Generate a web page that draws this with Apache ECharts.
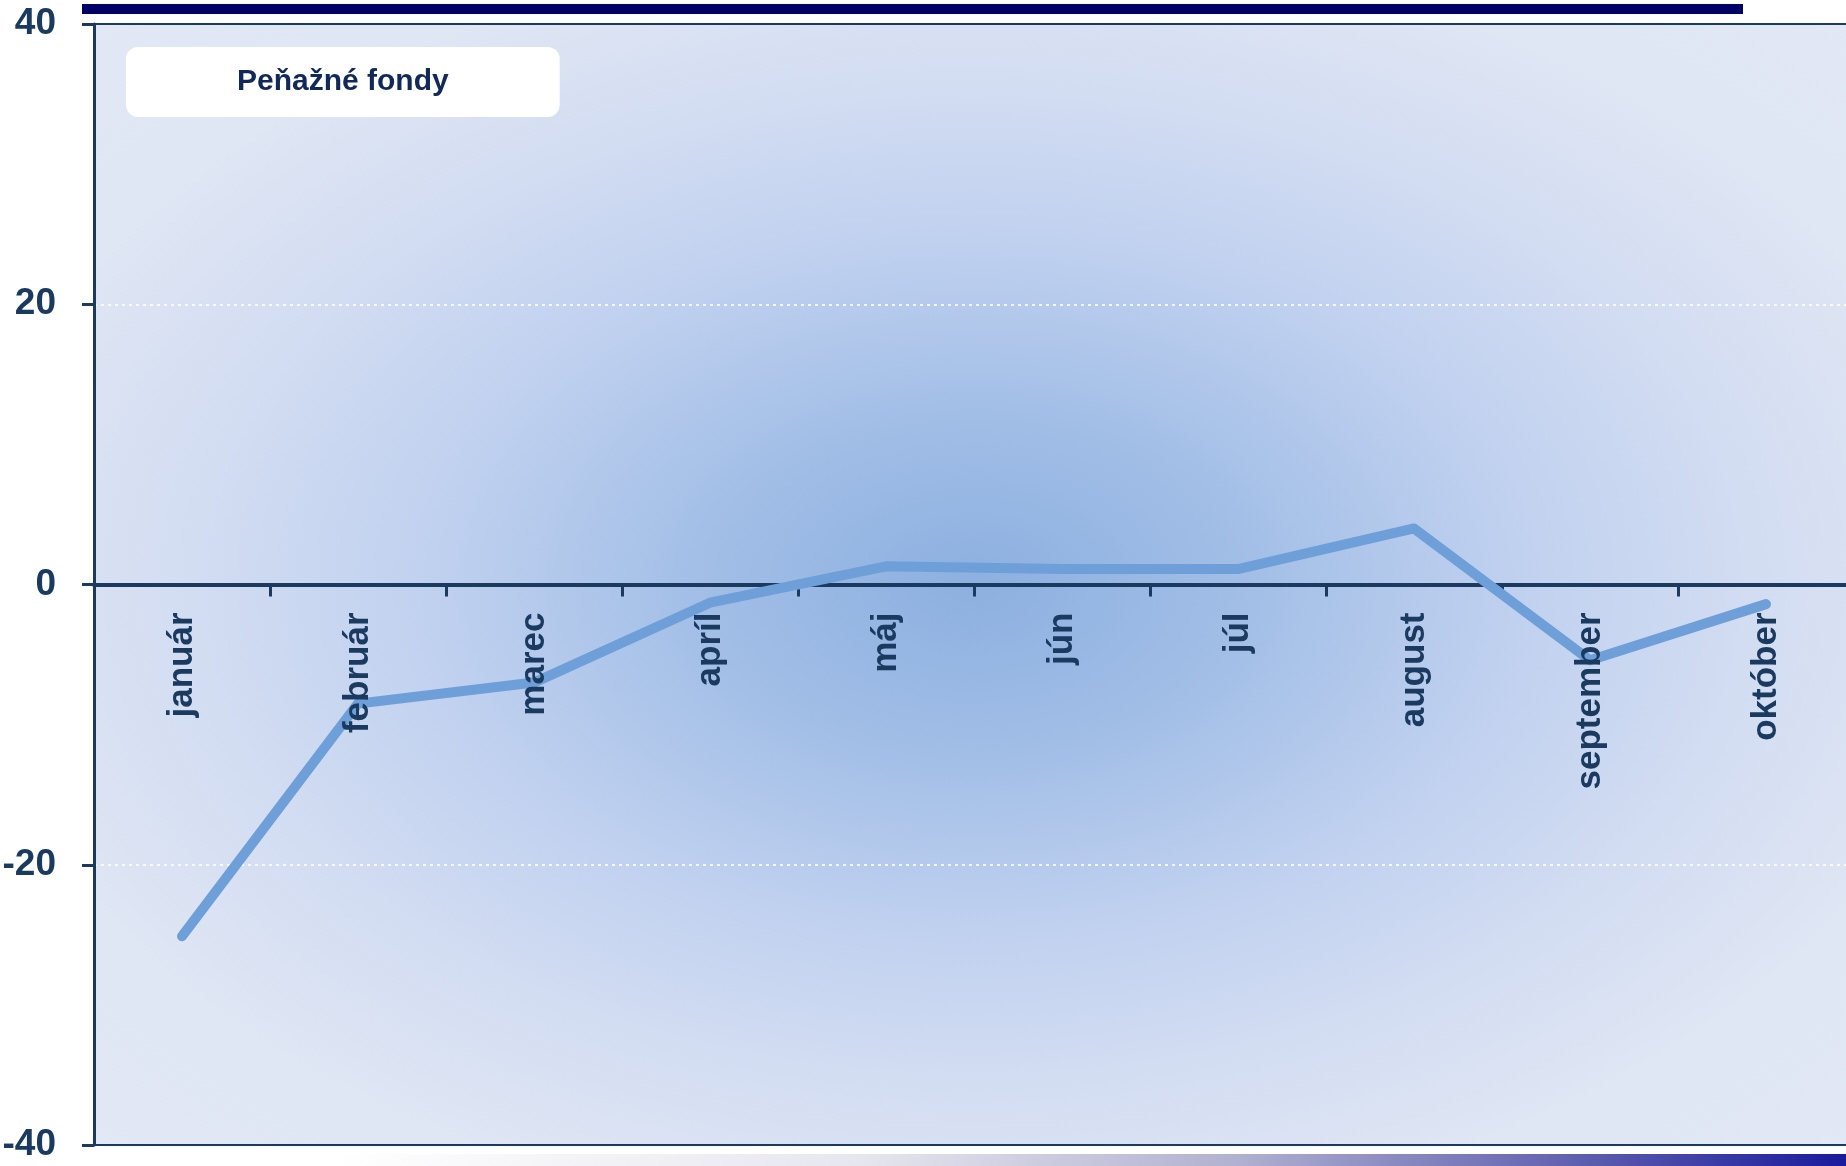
<!DOCTYPE html>
<html>
<head>
<meta charset="utf-8">
<script src="https://cdn.jsdelivr.net/npm/echarts@6/dist/echarts.min.js"></script>
<style>
  html, body { margin: 0; padding: 0; background: #ffffff; }
  #chart { width: 1846px; height: 1166px; }
</style>
</head>
<body>
<div id="chart"></div>
<script>
const months = ['január', 'február', 'marec', 'apríl', 'máj', 'jún', 'júl', 'august', 'september', 'október'];
const seriesName = 'Peňažné fondy';
const values = [-25.1, -8.5, -7.0, -1.3, 1.3, 1.1, 1.1, 4.0, -5.4, -1.4];
const yMin = -40, yMax = 40, yStep = 20;

const navy = '#1b3a60';
const font = "'Liberation Sans', Arial, sans-serif";

const G = { left: 94, top: 24, width: 1760, height: 1121 };

const chart = echarts.init(document.getElementById('chart'));
chart.setOption({
  animation: false,
  backgroundColor: '#ffffff',
  graphic: [
    {
      type: 'rect', z: -10, silent: true,
      x: G.left, y: G.top, scaleY: G.height / G.width,
      shape: { x: 0, y: 0, width: G.width, height: G.width },
      style: {
        fill: new echarts.graphic.RadialGradient(0.5, 0.5, 0.72, [
          { offset: 0, color: '#8db0e0' },
          { offset: 0.2, color: '#a0bde6' },
          { offset: 0.42, color: '#bfd0ef' },
          { offset: 0.62, color: '#d3ddf2' },
          { offset: 0.8, color: '#dfe6f4' },
          { offset: 1, color: '#e2e8f5' }
        ])
      }
    },
    {
      type: 'rect', silent: true,
      shape: { x: 82, y: 4, width: 1661, height: 10 },
      style: { fill: '#000066' }
    },
    {
      type: 'rect', silent: true,
      shape: { x: 330, y: 1154, width: 1516, height: 12 },
      style: {
        fill: new echarts.graphic.LinearGradient(0, 0, 1, 0, [
          { offset: 0, color: '#ffffff' },
          { offset: 0.35, color: '#e6e6ee' },
          { offset: 0.6, color: '#b0b0d0' },
          { offset: 0.82, color: '#6060b0' },
          { offset: 1, color: '#1a1a9c' }
        ])
      }
    }
  ],
  legend: {
    data: [seriesName],
    left: 126, top: 47,
    icon: 'rect', itemWidth: 0, itemHeight: 0,
    backgroundColor: '#ffffff',
    borderRadius: 12,
    padding: [20, 111, 20, 106],
    textStyle: { fontSize: 30, fontWeight: 'bold', color: '#10285a', fontFamily: font }
  },
  grid: {
    left: G.left, top: G.top, width: G.width, height: G.height,
    containLabel: false, outerBoundsMode: 'none',
    show: true, backgroundColor: 'transparent',
    borderColor: navy, borderWidth: 2
  },
  xAxis: [
    {
      type: 'category', data: months, position: 'bottom',
      axisLine: { onZero: true, lineStyle: { color: navy, width: 4 } },
      axisTick: { show: true, length: 12, lineStyle: { color: navy, width: 3 } },
      axisLabel: { show: false },
      splitLine: { show: false }
    },
    {
      type: 'category', data: months, position: 'bottom', z: 10, offset: 0,
      axisLine: { show: false, onZero: false },
      axisTick: { show: false },
      axisLabel: {
        rotate: 90, margin: 28,
        fontSize: 35, fontWeight: 'bold', color: navy,
        fontFamily: font, padding: [0, 0, 0, 0], lineHeight: 30
      },
      splitLine: { show: false }
    }
  ],
  yAxis: {
    type: 'value', min: yMin, max: yMax, interval: yStep,
    axisLine: { show: true, lineStyle: { color: navy, width: 3 } },
    axisTick: { show: true, length: 12, lineStyle: { color: navy, width: 3 } },
    axisLabel: { margin: 38, fontSize: 37, fontWeight: 'bold', color: navy, fontFamily: font },
    splitLine: {
      show: true, showMinLine: false, showMaxLine: false,
      lineStyle: { color: 'rgba(255,255,255,0.8)', width: 2, type: [3, 4] }
    }
  },
  series: [
    {
      name: seriesName, type: 'line', data: values, xAxisIndex: 0,
      symbol: 'none', smooth: false,
      lineStyle: { color: '#6f9fd8', width: 10, cap: 'round', join: 'round' },
      itemStyle: { color: '#6f9fd8' }
    }
  ]
});

// Place the label axis on the zero line using the value axis's own scale.
const zeroY = chart.convertToPixel({ yAxisIndex: 0 }, 0);
const gridRect = chart.getModel().getComponent('grid', 0).coordinateSystem.getRect();
const bottomY = gridRect.y + gridRect.height;
chart.setOption({ xAxis: [{}, { offset: zeroY - bottomY }] });
</script>
</body>
</html>
